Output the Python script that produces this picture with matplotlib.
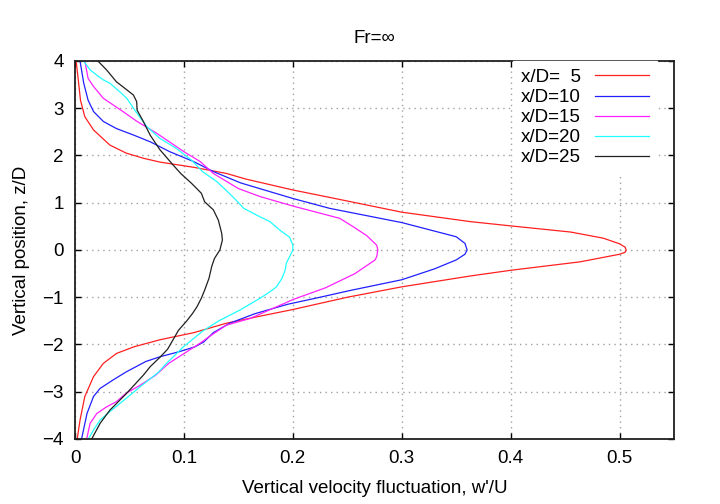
import numpy as np
import matplotlib
matplotlib.use("Agg")
import matplotlib.pyplot as plt

plt.rcParams['font.family'] = ['Liberation Sans', 'DejaVu Sans']

# profiles, listed from z/D=4 down to z/D=-4
z_05 = [4, 3.6, 3.17, 2.82, 2.54, 2.22, 2.05, 1.94, 1.86, 1.75, 1.62, 1.50, 1.27, 1.06, 0.80,
        0.60, 0.51, 0.38, 0.25, 0.13, 0.06, 0, -0.05, -0.09, -0.25, -0.43, -0.55, -0.78, -1.0,
        -1.26, -1.40, -1.55, -1.75, -1.90, -2.05, -2.19, -2.4, -2.68, -3.1, -3.6, -4]
w_05 = [0.001, 0.003, 0.005, 0.009, 0.017, 0.032, 0.047, 0.063, 0.078, 0.109, 0.139, 0.157, 0.2,
        0.245, 0.3, 0.363, 0.4, 0.455, 0.485, 0.5, 0.505, 0.506, 0.505, 0.5, 0.464, 0.4, 0.363,
        0.3, 0.25, 0.2, 0.17, 0.139, 0.109, 0.078, 0.054, 0.038, 0.026, 0.017, 0.009, 0.0046, 0.002]

z_10 = [4, 3.53, 3.17, 2.93, 2.72, 2.57, 2.43, 2.29, 2.08, 1.87, 1.66, 1.42, 1.09, 0.88, 0.58,
        0.28, 0.14, 0, -0.09, -0.21, -0.4, -0.63, -0.86, -1.0, -1.15, -1.35, -1.55, -1.75,
        -1.95, -2.05, -2.15, -2.26, -2.36, -2.58, -2.75, -2.93, -3.1, -3.46, -4]
w_10 = [0.0046, 0.008, 0.012, 0.017, 0.026, 0.038, 0.054, 0.069, 0.087, 0.109, 0.127, 0.152, 0.2,
        0.234, 0.3, 0.35, 0.358, 0.36, 0.358, 0.35, 0.33, 0.3, 0.252, 0.225, 0.195, 0.165, 0.142,
        0.127, 0.118, 0.11, 0.096, 0.078, 0.065, 0.047, 0.035, 0.023, 0.017, 0.011, 0.006]

z_15 = [4, 3.63, 3.46, 3.21, 3.07, 2.93, 2.72, 2.47, 2.08, 1.87, 1.62, 1.3, 1.13, 0.93, 0.67,
        0.49, 0.3, 0.1, 0, -0.14, -0.21, -0.5, -0.8, -1.05, -1.45, -1.59, -1.82, -1.97, -2.2,
        -2.4, -2.65, -2.86, -3.03, -3.21, -3.32, -3.46, -3.67, -4]
w_15 = [0.009, 0.012, 0.017, 0.026, 0.035, 0.044, 0.057, 0.075, 0.1, 0.115, 0.127, 0.15, 0.17,
        0.2, 0.243, 0.2556, 0.268, 0.277, 0.278, 0.277, 0.2755, 0.257, 0.23, 0.2, 0.1607, 0.139,
        0.124, 0.115, 0.0995, 0.086, 0.074, 0.06, 0.047, 0.038, 0.029, 0.02, 0.0138, 0.0107]

z_20 = [4, 3.81, 3.7, 3.6, 3.53, 3.35, 3.21, 2.89, 2.61, 2.36, 2.15, 1.9, 1.66, 1.45, 1.3, 1.1,
        0.88, 0.7, 0.6, 0.42, 0.27, 0.1, 0, -0.14, -0.28, -0.42, -0.6, -0.78, -0.9, -1.02,
        -1.27, -1.5, -1.72, -2.05, -2.4, -2.6, -2.89, -3.14, -3.42, -3.6, -3.81, -4]
w_20 = [0.0077, 0.014, 0.02, 0.026, 0.032, 0.041, 0.0475, 0.057, 0.066, 0.078, 0.093, 0.107,
        0.117, 0.13, 0.137, 0.146, 0.155, 0.17, 0.179, 0.188, 0.197, 0.2, 0.2, 0.197, 0.194,
        0.193, 0.19, 0.185, 0.178, 0.17, 0.1515, 0.132, 0.117, 0.0995, 0.084, 0.076, 0.06,
        0.047, 0.032, 0.023, 0.017, 0.0122]

z_25 = [4, 3.81, 3.56, 3.39, 3.28, 3.14, 2.96, 2.72, 2.43, 2.12, 1.8, 1.62, 1.41, 1.2, 1.02,
        0.85, 0.63, 0.35, 0.21, 0, -0.18, -0.35, -0.6, -0.85, -1.02, -1.2, -1.34, -1.5, -1.7,
        -1.9, -2.1, -2.27, -2.47, -2.65, -3.03, -3.39, -3.67, -4]
w_25 = [0.021, 0.029, 0.038, 0.0475, 0.0536, 0.0566, 0.057, 0.0627, 0.069, 0.078, 0.09, 0.097,
        0.107, 0.116, 0.119, 0.127, 0.1316, 0.1347, 0.1353, 0.133, 0.128, 0.1255, 0.123, 0.119,
        0.116, 0.112, 0.108, 0.1026, 0.095, 0.09, 0.085, 0.078, 0.069, 0.0627, 0.0475, 0.032,
        0.023, 0.0153]

labels = ['x/D=  5', 'x/D=10', 'x/D=15', 'x/D=20', 'x/D=25']
colors = ['#ff2020', '#2020ff', '#ff20ff', '#20ffff', '#202020']
xticks = [0, 0.1, 0.2, 0.3, 0.4, 0.5]
xtick_labels = ['0', '0.1', '0.2', '0.3', '0.4', '0.5']
yticks = [-4, -3, -2, -1, 0, 1, 2, 3, 4]

fs = 13.5
fig = plt.figure(figsize=(7.2, 5.04), dpi=100)
ax = fig.add_axes([0.1042, 0.129, 0.832, 0.750])

profiles = [(w_05, z_05), (w_10, z_10), (w_15, z_15), (w_20, z_20), (w_25, z_25)]
for (w, z), lab, col in zip(profiles, labels, colors):
    ax.plot(w, z, color=col, lw=0.9, label=lab)

ax.set_xlim(0, 0.55)
ax.set_ylim(-4, 4)
ax.set_xticks(xticks)
ax.set_xticklabels(xtick_labels)
ax.set_yticks(yticks)
ax.tick_params(direction='in', length=4.5, width=1.0, top=True, right=True,
               labelsize=fs, pad=8, colors='black')
ax.grid(True, color='#a0a0a0', linestyle=(0, (1, 3)), lw=1.0)
for s in ax.spines.values():
    s.set_linewidth(1.3)
    s.set_color('#202020')

ax.set_xlabel("Vertical velocity fluctuation, w'/U", fontsize=fs, labelpad=9)
ax.set_ylabel("Vertical position, z/D", fontsize=fs, labelpad=9)
ax.set_title("Fr=\u221e", fontsize=fs, pad=13)

leg = ax.legend(loc='upper right', markerfirst=False, fontsize=fs, handlelength=2.9,
                handletextpad=0.75, labelspacing=0.16, borderaxespad=0.0, borderpad=0.42,
                fancybox=False, framealpha=1.0, edgecolor='white', facecolor='white',
                bbox_to_anchor=(0.972, 1.0))

fig.savefig("out.png", dpi=100)
